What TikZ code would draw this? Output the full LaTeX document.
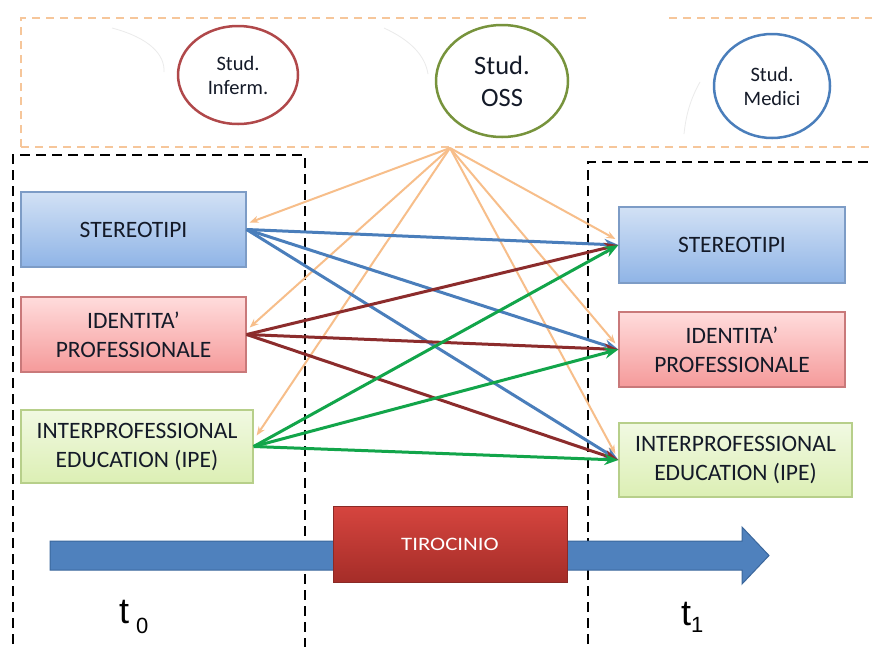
\documentclass[tikz,border=0pt]{standalone}
\usepackage{fontspec}
\usepackage{graphicx}
\setmainfont{Carlito}
\newfontfamily\arialf{Liberation Sans}
\usetikzlibrary{arrows.meta,shapes.geometric}
\definecolor{peach}{HTML}{F6C69A}
\definecolor{peachline}{HTML}{F7BE8A}
\definecolor{cinf}{HTML}{B0484A}
\definecolor{coss}{HTML}{77933C}
\definecolor{cmed}{HTML}{4A7EBB}
\definecolor{bluetop}{HTML}{D2E1F5}
\definecolor{bluebot}{HTML}{8FB4E6}
\definecolor{blueedge}{HTML}{7D9CC6}
\definecolor{redtop}{HTML}{FFDCDC}
\definecolor{redbot}{HTML}{F59A9A}
\definecolor{rededge}{HTML}{C9797A}
\definecolor{grtop}{HTML}{F1F9E2}
\definecolor{grbot}{HTML}{DCEFB4}
\definecolor{gredge}{HTML}{B7CF8A}
\definecolor{txt}{HTML}{141A28}
\definecolor{lblue}{HTML}{4A7EBB}
\definecolor{lred}{HTML}{8C2C2C}
\definecolor{lgreen}{HTML}{12A54A}
\definecolor{arrfill}{HTML}{4F81BD}
\definecolor{arredge}{HTML}{3B679C}
\definecolor{tirtop}{HTML}{D6453F}
\definecolor{tirbot}{HTML}{A52D28}
\definecolor{tiredge}{HTML}{8A2A26}
\tikzset{
  boxbase/.style={rectangle, draw, line width=1.3pt, inner sep=0pt, align=center,
    text=txt, font=\fontsize{23.5}{29}\selectfont},
  bluebox/.style={boxbase, draw=blueedge, top color=bluetop, bottom color=bluebot},
  redbox/.style={boxbase, draw=rededge, top color=redtop, bottom color=redbot},
  greenbox/.style={boxbase, draw=gredge, top color=grtop, bottom color=grbot},
  stud/.style={ellipse, draw, line width=2.5pt, fill=white, inner sep=0pt, align=center,
    text=txt, font=\fontsize{20.5}{24}\selectfont},
  blackdash/.style={draw=black, line width=2.8pt, dash pattern=on 10pt off 6pt},
  peachdash/.style={draw=peach, line width=2.4pt, dash pattern=on 8pt off 6pt},
  oline/.style={draw=peachline, line width=2pt, -{Stealth[length=9pt,width=7pt]}},
  cline/.style={line width=3pt, -{Stealth[length=14pt,width=11pt]}},
  tlabel/.style={anchor=base west, inner sep=0pt, font=\arialf, text=black}
}
\begin{document}
\begin{tikzpicture}[x=1pt,y=-1pt]
\useasboundingbox (0,0) rectangle (872,646);
\clip (0,0) rectangle (872,646);
\fill[white] (0,0) rectangle (872,646);

% faint arcs
\draw[black!8, line width=0.8pt] (112,28) .. controls (150,38) and (165,55) .. (164,72);
\draw[black!8, line width=0.8pt] (384,28) .. controls (410,40) and (425,55) .. (428,74);
\draw[black!8, line width=0.8pt] (700,82) .. controls (690,100) and (686,115) .. (684,134);

% peach dashed frame
\draw[peachdash] (21,147) -- (21,18) -- (586,18);
\draw[peachdash] (669,18) -- (880,18);
\draw[peachdash] (21,147) -- (880,147);

% circles
\node[stud, draw=cinf, minimum width=120pt, minimum height=98pt] (inf) at (238,75) {Stud.\\Inferm.};
\node[stud, draw=coss, minimum width=132pt, minimum height=112pt,
  font=\fontsize{26.5}{32}\selectfont] (oss) at (502,81) {Stud.\\OSS};
\node[stud, draw=cmed, minimum width=116pt, minimum height=104pt] (med) at (772,86) {Stud.\\Medici};

% black dashed boxes
\draw[blackdash] (13,660) -- (13,155) -- (305,155) -- (305,660);
\draw[blackdash] (588,660) -- (588,162) -- (880,162);

% boxes
\node[bluebox, minimum width=225pt, minimum height=75pt] (l1) at (133.5,229.5) {STEREOTIPI};
\node[redbox, minimum width=225pt, minimum height=75pt] (l2) at (133.5,334.5) {IDENTITA’\\PROFESSIONALE};
\node[greenbox, minimum width=232pt, minimum height=73pt] (l3) at (137,446.5) {INTERPROFESSIONAL\\EDUCATION (IPE)};
\node[bluebox, minimum width=226pt, minimum height=76pt] (r1) at (732,245) {STEREOTIPI};
\node[redbox, minimum width=226pt, minimum height=75pt] (r2) at (732,349.5) {IDENTITA’\\PROFESSIONALE};
\node[greenbox, minimum width=233pt, minimum height=74pt] (r3) at (735.5,460) {INTERPROFESSIONAL\\EDUCATION (IPE)};

% hub
\coordinate (hub) at (450,148);
\draw[oline] (hub) -- ([xshift=3pt,yshift=7pt]l1.east);
\draw[oline] (hub) -- ([xshift=3pt,yshift=7pt]l2.east);
\draw[oline] (hub) -- ([xshift=3pt,yshift=11pt]l3.east);
\draw[oline] (hub) -- ([xshift=-3pt,yshift=6pt]r1.west);
\draw[oline] (hub) -- ([xshift=-3pt,yshift=6pt]r2.west);
\draw[oline] (hub) -- ([xshift=-3pt,yshift=6pt]r3.west);

% colored connectors
\foreach \t in {r1,r2,r3} {\draw[cline, lblue] (l1.east) -- (\t.west);}
\foreach \t in {r1,r2,r3} {\draw[cline, lred] (l2.east) -- (\t.west);}
\foreach \t in {r1,r2,r3} {\draw[cline, lgreen] (l3.east) -- (\t.west);}

% time arrow
\draw[fill=arrfill, draw=arredge, line width=1pt]
  (50,541) -- (742,541) -- (742,527) -- (769,555.5) -- (742,584) -- (742,570) -- (50,570) -- cycle;
\node[rectangle, draw=tiredge, line width=1pt, top color=tirtop, bottom color=tirbot,
  minimum width=234pt, minimum height=76pt, text=white, font=\fontsize{19}{22}\selectfont]
  (tir) at (450,544) {\scalebox{1.2}[1]{TIROCINIO}};

% time labels
\node[tlabel] (t0) at (119,623) {\fontsize{36}{40}\selectfont t\hspace{7pt}\raisebox{-10pt}{\fontsize{22}{24}\selectfont 0}};
\node[tlabel] (t1) at (681,625) {\fontsize{36}{40}\selectfont t\raisebox{-7pt}{\fontsize{22}{24}\selectfont 1}};
\end{tikzpicture}
\end{document}
